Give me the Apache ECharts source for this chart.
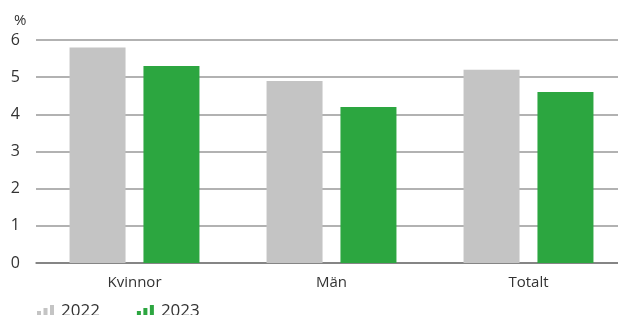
<!DOCTYPE html>
<html lang="sv">
<head>
<meta charset="UTF-8">
<title>Andel</title>
<script src="https://cdn.jsdelivr.net/npm/echarts@6/dist/echarts.min.js"></script>
<style>
  html, body { margin: 0; padding: 0; background: #fff; overflow: hidden; }
  #chart { width: 618px; height: 315px; }
</style>
</head>
<body>
<div id="chart"></div>
<script>
  var categories = ['Kvinnor', 'Män', 'Totalt'];
  var values2022 = [5.8, 4.9, 5.2];
  var values2023 = [5.3, 4.2, 4.6];
  var seriesNames = ['2022', '2023'];

  var barIcon = 'path://M0,6h4v7h-4z M6.5,3h4v10h-4z M13,0h4v13h-4z';
  var font = '"Open Sans", sans-serif';

  var chart = echarts.init(document.getElementById('chart'));
  chart.setOption({
    animation: false,
    textStyle: { fontFamily: font },
    title: {
      text: '%',
      left: 9, top: 8,
      textStyle: { fontSize: 15, fontWeight: 'normal', color: '#333', fontFamily: font }
    },
    legend: {
      left: 37, top: 303, padding: 0,
      itemWidth: 17, itemHeight: 13, itemGap: 37,
      textStyle: { fontSize: 17, color: '#333', padding: [3, 0, 0, 2] },
      data: [
        { name: seriesNames[0], icon: barIcon },
        { name: seriesNames[1], icon: barIcon }
      ]
    },
    grid: { left: 36, right: -9, top: 40, bottom: 52, outerBoundsMode: 'none' },
    xAxis: {
      type: 'category',
      data: categories,
      axisLine: { lineStyle: { color: '#777', width: 1.5 } },
      axisTick: { show: false },
      axisLabel: { color: '#333', fontSize: 15, margin: 12 }
    },
    yAxis: {
      type: 'value',
      min: 0, max: 6, interval: 1,
      axisLine: { show: false },
      axisTick: { show: false },
      axisLabel: { color: '#333', fontSize: 16, margin: 16 },
      splitLine: { lineStyle: { color: '#999', width: 1.5 } }
    },
    series: [
      {
        name: seriesNames[0], type: 'bar', data: values2022,
        barWidth: 56, barGap: '32%',
        itemStyle: { color: '#c4c4c4' }
      },
      {
        name: seriesNames[1], type: 'bar', data: values2023,
        barWidth: 56,
        itemStyle: { color: '#2ca640' }
      }
    ]
  });
</script>
</body>
</html>
